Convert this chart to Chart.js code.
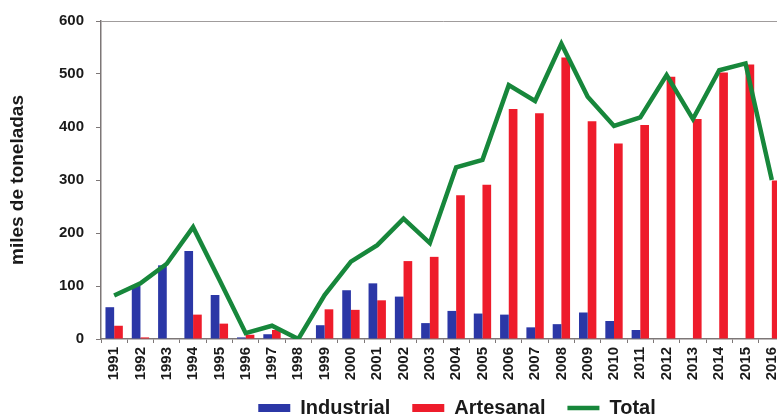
<!DOCTYPE html>
<html>
<head>
<meta charset="utf-8">
<script src="https://cdn.jsdelivr.net/npm/chart.js@4/dist/chart.umd.min.js"></script>
<style>
  html, body { margin: 0; padding: 0; background: #fff; overflow: hidden; }
  #wrap { width: 800px; height: 417px; position: relative; }
</style>
</head>
<body>
<div id="wrap"><canvas id="capturas"></canvas></div>
<script>
const years = ['1991', '1992', '1993', '1994', '1995', '1996', '1997', '1998', '1999', '2000',
    '2001', '2002', '2003', '2004', '2005', '2006', '2007', '2008', '2009', '2010',
    '2011', '2012', '2013', '2014', '2015', '2016'];
const industrial = [60, 101, 139, 166, 83, 3, 9, 0, 26, 92, 105, 80, 30, 53, 48, 46, 22, 28, 50, 34, 17, 0, 0, 0, 0, 0];
const artesanal = [25, 3, 1, 46, 29, 8, 17, 0, 56, 55, 73, 147, 155, 271, 291, 434, 426, 531, 411, 369, 404, 495, 415, 503, 518, 299];
const total = [82, 105, 142, 211, 112, 11, 25, 0, 83, 146, 177, 227, 181, 324, 338, 479, 449, 557, 457, 402, 418, 498, 415, 507, 520, 300];
const yTicks = [0, 100, 200, 300, 400, 500, 600];

const FONT = "'Liberation Sans', Arial, sans-serif";
const axisColor = '#7d7777';

// nudge the legend to where the original sits
const legendShift = {
    id: 'legendShift',
    afterLayout(chart) {
        const lg = chart.legend;
        if (!lg) return;
        lg.left += 14; lg.right += 14;
        lg.top -= 4; lg.bottom -= 4;
    }
};

new Chart(document.getElementById('capturas').getContext('2d'), {
    type: 'bar',
    data: {
        labels: years,
        datasets: [
            {
                label: 'Industrial',
                data: industrial,
                backgroundColor: '#2b37a6',
                pointStyle: 'rect',
                order: 1,
                categoryPercentage: 0.66,
                barPercentage: 1.0
            },
            {
                label: 'Artesanal',
                data: artesanal,
                backgroundColor: '#ee1c2b',
                pointStyle: 'rect',
                order: 2,
                categoryPercentage: 0.66,
                barPercentage: 1.0
            },
            {
                type: 'line',
                label: 'Total',
                data: total,
                borderColor: '#17873b',
                backgroundColor: '#17873b',
                borderWidth: 4.5,
                pointRadius: 0,
                pointStyle: 'line',
                tension: 0,
                order: 0
            }
        ]
    },
    options: {
        responsive: true,
        maintainAspectRatio: false,
        animation: false,
        layout: { padding: { top: 20, right: 15, left: 0, bottom: -15 } },
        plugins: {
            legend: {
                position: 'bottom',
                fullSize: false,
                labels: {
                    usePointStyle: true,
                    pointStyleWidth: 32,
                    boxHeight: 8,
                    padding: 22,
                    color: '#1a1a1a',
                    font: { family: FONT, size: 20, weight: 'bold' },
                    sort: (a, b) => a.datasetIndex - b.datasetIndex
                }
            },
            tooltip: { enabled: false }
        },
        scales: {
            x: {
                offset: true,
                grid: { offset: true, drawOnChartArea: false, tickLength: 4, color: axisColor },
                border: { color: axisColor, width: 1.5 },
                ticks: {
                    autoSkip: false,
                    maxRotation: 90,
                    minRotation: 90,
                    padding: 4,
                    color: '#1a1a1a',
                    font: { family: FONT, size: 15, weight: 'bold' }
                },
                afterFit: (scale) => { scale.height = 41; }
            },
            y: {
                min: 0,
                max: 600,
                afterBuildTicks: (scale) => { scale.ticks = yTicks.map(v => ({ value: v })); },
                grid: {
                    drawOnChartArea: true,
                    color: (ctx) => ctx.tick && ctx.tick.value === 600 ? '#a09c9c' : 'rgba(0,0,0,0)',
                    tickColor: axisColor,
                    tickLength: 5
                },
                border: { color: axisColor, width: 1.5 },
                ticks: {
                    padding: 12,
                    color: '#1a1a1a',
                    font: { family: FONT, size: 15, weight: 'bold' }
                },
                title: {
                    display: true,
                    text: 'miles de toneladas',
                    color: '#1a1a1a',
                    padding: { top: 6, bottom: 4 },
                    font: { family: FONT, size: 19, weight: 'bold' }
                },
                afterFit: (scale) => { scale.width = 101; }
            }
        }
    },
    plugins: [legendShift]
});
</script>
</body>
</html>
